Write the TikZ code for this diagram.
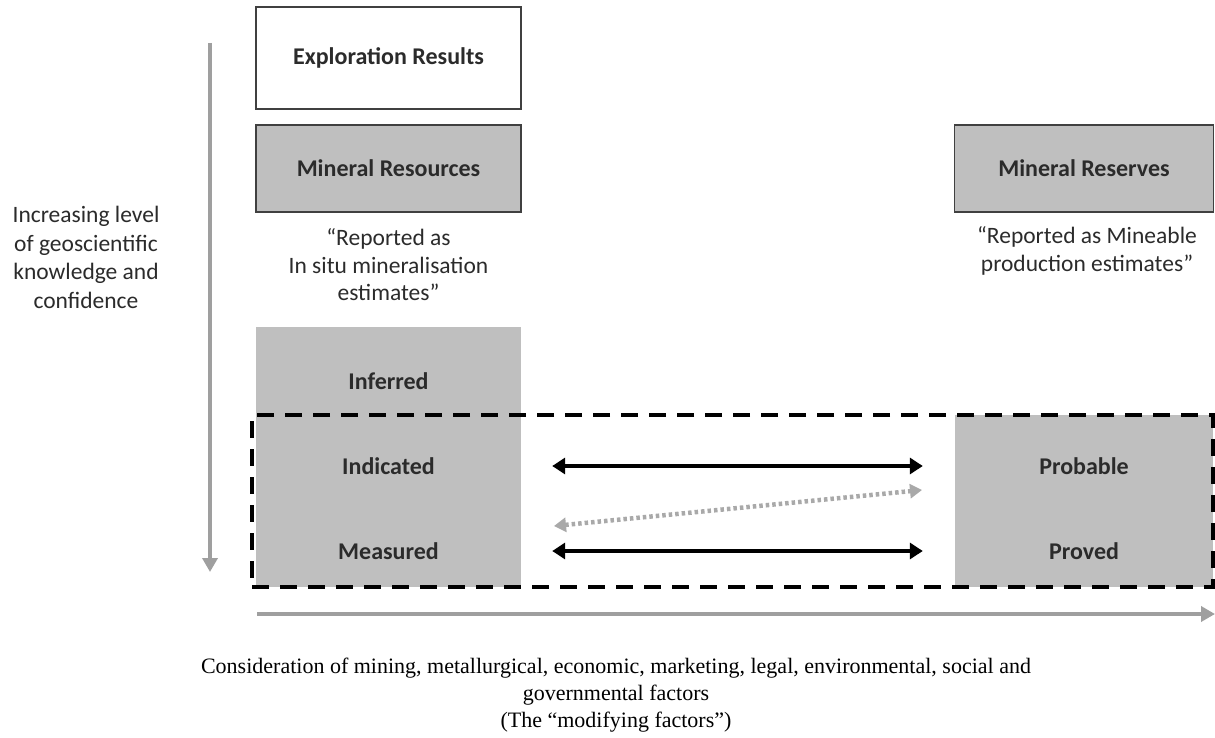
\documentclass[tikz,border=0pt]{standalone}
\usepackage{fontspec}
\setmainfont{Liberation Serif}
\newfontfamily\calib{Carlito}
\usepackage{xcolor}
\usepackage{tikz}
\usetikzlibrary{positioning,arrows.meta}
\definecolor{boxgray}{HTML}{BFBFBF}
\definecolor{axisgray}{HTML}{9F9F9F}
\definecolor{inkgray}{HTML}{2B2B2B}
\tikzset{
  axis/.style={-{Triangle[length=14pt,width=15pt]}, line width=4.5pt, draw=axisgray},
  every node/.style={anchor=center}
}

\begin{document}
\begin{tikzpicture}[
  x=1pt, y=-1pt,
  catbox/.style={draw=inkgray!90, line width=1.8pt, minimum width=265pt, minimum height=#1, inner sep=0pt, font=\calib\bfseries\fontsize{24}{28}\selectfont, text=inkgray},
  catbox/.default=87pt,
  classcol/.style={fill=boxgray, inner sep=0pt},
  classlbl/.style={font=\calib\bfseries\fontsize{24}{28}\selectfont, text=inkgray},
  quote/.style={align=center, font=\calib\fontsize{23.5}{27.5}\selectfont, text=inkgray},
  pairarrow/.style={{Triangle[length=13pt,width=16pt]}-{Triangle[length=13pt,width=16pt]}, line width=3.5pt, draw=black},
  backarrow/.style={{Triangle[length=12pt,width=14pt]}-{Triangle[length=12pt,width=14pt]}, line width=4.5pt, draw=axisgray!90, dash pattern=on 3.5pt off 3pt}
]
\useasboundingbox (0,0) rectangle (1215,738);

% reporting categories
\node[catbox=102pt, fill=white] (explore) at (388.5,58) {Exploration Results};
\node[catbox, fill=boxgray] (resources) at (388.5,168.5) {Mineral Resources};
\node[catbox, fill=boxgray, minimum width=259pt] (reserves) at (1084,168.5) {Mineral Reserves};
\node[quote] (resnote) at (388.5,265) {“Reported as\\In situ mineralisation\\estimates”};
\node[quote] (resvnote) at (1087,251) {“Reported as Mineable\\production estimates”};

% confidence axis
\node[quote, font=\calib\fontsize{23.5}{28.5}\selectfont] (confidence) at (86,257.5) {Increasing level\\of geoscientific\\knowledge and\\confidence};
\coordinate (conftop) at (210,43);
\coordinate (confend) at (210,572);
\draw[axis] (conftop) -- (confend);

% resource and reserve columns
\node[classcol, minimum width=265pt, minimum height=260pt] (rescol) at (388.5,457) {};
\node[classcol, minimum width=258pt, minimum height=172pt] (resvcol) at (1084,501) {};
\node[classlbl] (inferred)  at (388.5,381) {Inferred};
\node[classlbl] (indicated) at (388.5,466) {Indicated};
\node[classlbl] (measured)  at (388.5,551) {Measured};
\node[classlbl] (probable)  at (1084,466) {Probable};
\node[classlbl] (proved)    at (1084,551) {Proved};

% modifying factors frame
\node[draw=black, line width=4pt, dash pattern=on 17pt off 11pt, minimum width=961pt, minimum height=172pt, inner sep=0pt] (modframe) at (732.5,501) {};

% conversion arrows
\draw[pairarrow, shorten <=31pt, shorten >=32pt] (indicated -| rescol.east) -- (probable -| resvcol.west);
\draw[pairarrow, shorten <=31pt, shorten >=32pt] (measured -| rescol.east) -- (proved -| resvcol.west);
\coordinate (backfrom) at (554,526);
\coordinate (backto) at (922,490);
\draw[backarrow] (backfrom) -- (backto);

% modifying factors axis
\coordinate (modstart) at (257,614);
\coordinate (modend) at (1215,614);
\draw[axis] (modstart) -- (modend);
\node[align=center, font=\fontsize{22}{27}\selectfont] (factors) at (616,695) {Consideration of mining, metallurgical, economic, marketing, legal, environmental, social and\\governmental factors\\(The “modifying factors”)};

\end{tikzpicture}
\end{document}
